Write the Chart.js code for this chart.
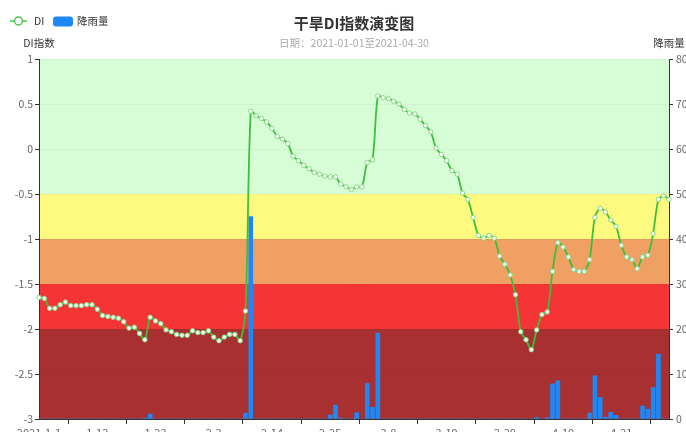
<!DOCTYPE html>
<html lang="zh">
<head>
  <meta charset="UTF-8" />
  <title>干旱DI指数演变图</title>
  <script src="https://cdn.jsdelivr.net/npm/chart.js"></script>
  <style>
    html, body { margin: 0; padding: 0; background: #fff; overflow: hidden; }
    #wrap { width: 686px; height: 432px; overflow: hidden; }
  </style>
</head>
<body>
<div id="wrap">
  <canvas id="diChart" width="708" height="440"></canvas>
</div>

<script>
// 日期 2021-01-01 至 2021-04-30
const dates = [];
for (let d = new Date(2021, 0, 1); d <= new Date(2021, 3, 30); d.setDate(d.getDate() + 1)) {
  dates.push((d.getMonth() + 1) + '-' + d.getDate());
}
dates[0] = '2021-1-1';

const diValues = [
  -1.65, -1.66, -1.77, -1.77, -1.73, -1.70, -1.74, -1.74, -1.74, -1.73,
  -1.73, -1.78, -1.85, -1.86, -1.87, -1.88, -1.92, -1.99, -1.98, -2.05,
  -2.12, -1.87, -1.91, -1.94, -2.01, -2.03, -2.06, -2.07, -2.07, -2.02,
  -2.04, -2.04, -2.02, -2.09, -2.13, -2.09, -2.06, -2.06, -2.13, -1.80,
   0.42,  0.37,  0.34,  0.30,  0.23,  0.14,  0.11,  0.06, -0.08, -0.13,
  -0.18, -0.22, -0.26, -0.28, -0.30, -0.31, -0.31, -0.39, -0.42, -0.45,
  -0.42, -0.42, -0.15, -0.12,  0.59,  0.57,  0.56,  0.53,  0.50,  0.44,
   0.40,  0.39,  0.33,  0.26,  0.19,  0.01, -0.06, -0.13, -0.24, -0.28,
  -0.49, -0.56, -0.76, -0.96, -0.99, -0.96, -0.99, -1.19, -1.28, -1.40,
  -1.62, -2.03, -2.12, -2.23, -2.01, -1.84, -1.81, -1.36, -1.04, -1.09,
  -1.20, -1.34, -1.36, -1.36, -1.23, -0.76, -0.66, -0.70, -0.79, -0.86,
  -1.07, -1.20, -1.23, -1.33, -1.20, -1.18, -0.94, -0.56, -0.52, -0.56
];

const rainValues = [
  0, 0, 0, 0, 0, 0, 0, 0, 0, 0,
  0, 0, 0, 0, 0, 0, 0, 0, 0, 0,
  0.2, 1.1, 0, 0, 0, 0, 0, 0, 0, 0,
  0, 0, 0, 0, 0, 0, 0, 0, 0, 1.3,
  45, 0, 0, 0, 0, 0, 0, 0, 0, 0,
  0, 0, 0, 0, 0, 0.9, 3.1, 0.2, 0, 0,
  1.4, 0, 7.9, 2.6, 19.1, 0, 0, 0, 0, 0,
  0, 0, 0, 0, 0, 0, 0, 0, 0, 0,
  0, 0, 0, 0, 0, 0, 0, 0, 0, 0,
  0, 0, 0, 0, 0.3, 0, 0.3, 7.8, 8.5, 0,
  0, 0, 0, 0, 1.3, 9.6, 4.8, 0.4, 1.5, 0.8,
  0, 0, 0, 0, 2.9, 2.2, 7.0, 14.4, 0, 0
];

// 干旱等级分区（DI 上下界）
const levelEdges = [1, -0.5, -1, -1.5, -2, -3];
const levelColors = ['#d6fdd6', '#fefa80', '#efa062', '#f53535', '#a83030'];

const FONT = '"Noto Sans CJK SC", "Noto Sans", sans-serif';

const bandPlugin = {
  id: 'bands',
  beforeDraw(chart) {
    const { ctx, chartArea: a, scales: { y } } = chart;
    ctx.save();
    for (let i = 0; i < levelColors.length; i++) {
      const top = y.getPixelForValue(levelEdges[i]);
      const bot = y.getPixelForValue(levelEdges[i + 1]);
      ctx.fillStyle = levelColors[i];
      ctx.fillRect(a.left, top, a.right - a.left, bot - top);
    }
    ctx.restore();
  },
  afterDraw(chart) {
    const { ctx, chartArea: a } = chart;
    ctx.save();
    const cx = (a.left + a.right) / 2;
    ctx.textAlign = 'center';
    ctx.textBaseline = 'middle';
    ctx.fillStyle = '#333';
    ctx.font = 'bold 15px ' + FONT;
    ctx.fillText('干旱DI指数演变图', cx, 23);
    ctx.fillStyle = '#aaa';
    ctx.font = '10.5px ' + FONT;
    ctx.fillText('日期：2021-01-01至2021-04-30', cx, 43);

    // 轴名称
    ctx.fillStyle = '#333';
    ctx.fillText('DI指数', a.left, 43);
    ctx.fillText('降雨量', a.right, 43);

    // 图例
    ctx.textAlign = 'left';
    ctx.strokeStyle = '#4cc44c';
    ctx.lineWidth = 1.5;
    ctx.beginPath(); ctx.moveTo(10, 21); ctx.lineTo(27, 21); ctx.stroke();
    ctx.beginPath(); ctx.arc(18.5, 21, 4, 0, Math.PI * 2);
    ctx.fillStyle = '#fff'; ctx.fill(); ctx.stroke();
    ctx.fillStyle = '#333';
    ctx.fillText('DI', 34, 21);
    ctx.fillStyle = '#1e88f5';
    ctx.beginPath(); ctx.roundRect(53, 16.5, 20, 10, 3); ctx.fill();
    ctx.fillStyle = '#333';
    ctx.fillText('降雨量', 77, 21);
    ctx.restore();
  }
};

new Chart(document.getElementById('diChart'), {
  data: {
    labels: dates,
    datasets: [
      {
        type: 'line',
        label: 'DI',
        data: diValues,
        yAxisID: 'y',
        order: 0,
        borderColor: '#3cbf3c',
        borderWidth: 1.8,
        tension: 0.3,
        pointRadius: 2.2,
        pointBorderWidth: 1,
        pointBackgroundColor: '#f6fff2',
        pointBorderColor: '#8ad88a'
      },
      {
        type: 'bar',
        label: '降雨量',
        data: rainValues,
        yAxisID: 'y1',
        order: 1,
        backgroundColor: '#1e88f5',
        barThickness: 4
      }
    ]
  },
  options: {
    responsive: false,
    animation: false,
    devicePixelRatio: 1,
    layout: { padding: { top: 59, left: 0, right: 0, bottom: 0 } },
    plugins: { legend: { display: false }, title: { display: false }, tooltip: { enabled: false } },
    scales: {
      x: {
        offset: false,
        afterFit: s => { s.height = 21; },
        border: { color: '#333', width: 1 },
        grid: { drawOnChartArea: false, color: '#333', tickLength: 5 },
        ticks: {
          autoSkip: false, maxRotation: 0, padding: 2, color: '#666',
          font: { size: 11, family: FONT },
          callback: (v, i) => i % 11 === 0 ? dates[i] : null
        }
      },
      y: {
        position: 'left',
        min: -3, max: 1,
        afterFit: s => { s.width = 39; },
        border: { color: '#333', width: 1 },
        grid: { color: 'rgba(0,0,0,0.035)', tickColor: '#333', tickLength: 4 },
        ticks: {
          stepSize: 0.5, padding: 2, color: '#666', font: { size: 10.5, family: FONT },
          callback: v => String(v)
        }
      },
      y1: {
        position: 'right',
        min: 0, max: 80,
        afterFit: s => { s.width = 39; },
        border: { color: '#333', width: 1 },
        grid: { drawOnChartArea: false, color: '#333', tickLength: 4 },
        ticks: { stepSize: 10, padding: 3, color: '#666', font: { size: 10.5, family: FONT } }
      }
    }
  },
  plugins: [bandPlugin]
});
</script>
</body>
</html>
